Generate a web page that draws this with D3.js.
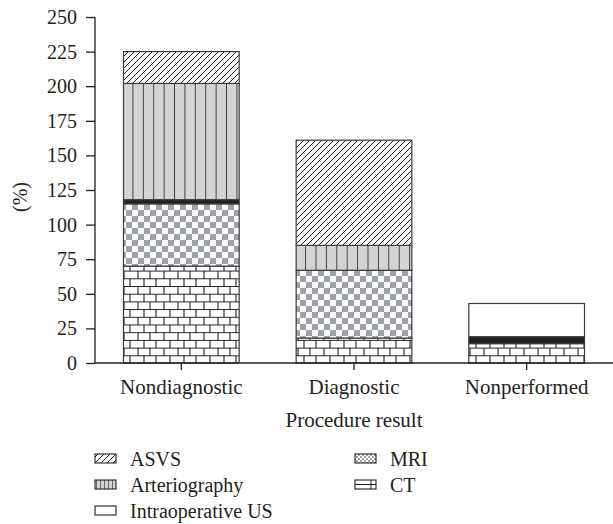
<!DOCTYPE html>
<html><head><meta charset="utf-8">
<script src="https://cdn.jsdelivr.net/npm/d3@7/dist/d3.min.js"></script>
<style>body{margin:0;background:#fff}svg{display:block}</style>
</head><body><svg id="c" width="613" height="524"></svg>
<script>
const categories = ["Nondiagnostic", "Diagnostic", "Nonperformed"];
const seriesNames = ["CT", "MRI", "Other", "Arteriography", "ASVS", "Intraoperative US"];
const ctValues = [70, 18, 14];
const mriValues = [45, 49, 0];
const otherValues = [3, 0, 5];
const arteriographyValues = [84, 18, 0];
const asvsValues = [23, 76, 0];
const intraopValues = [0, 0, 24];
const yTicks = [0, 25, 50, 75, 100, 125, 150, 175, 200, 225, 250];
const legendItems = [["ASVS","asvs"],["Arteriography","art"],["Intraoperative US","us"],["MRI","mri"],["CT","ct"]];

const FONT = "Liberation Serif";
const INK = "#231f20";
const svg = d3.select("#c");
const defs = svg.append("defs");

const x = d3.scaleBand().domain(categories).range([95, 613]).paddingInner(0.33).paddingOuter(0.165);
const y = d3.scaleLinear().domain([0, 250]).range([363, 17]);

let p = defs.append("pattern").attr("id","asvs").attr("patternUnits","userSpaceOnUse").attr("width",6).attr("height",6);
p.append("rect").attr("width",6).attr("height",6).attr("fill","#fff");
p.append("path").attr("d","M-1,7 L7,-1 M-4,4 L4,-4 M2,10 L10,2").attr("stroke",INK).attr("stroke-width",1);
categories.forEach((c,i)=>{
  const q = defs.append("pattern").attr("id","art"+i).attr("patternUnits","userSpaceOnUse").attr("width",10.4).attr("height",10).attr("x",x(c)-0.5);
  q.append("rect").attr("width",10.4).attr("height",10).attr("fill","#d3d3d5");
  q.append("path").attr("d","M10.4,0 V10").attr("stroke",INK).attr("stroke-width",1.6);
});
p = defs.append("pattern").attr("id","artL").attr("patternUnits","userSpaceOnUse").attr("width",4).attr("height",10);
p.append("rect").attr("width",4).attr("height",10).attr("fill","#d3d3d5");
p.append("path").attr("d","M0,0 V10").attr("stroke",INK).attr("stroke-width",1.2);
p = defs.append("pattern").attr("id","mri").attr("patternUnits","userSpaceOnUse").attr("width",12).attr("height",12);
p.append("rect").attr("width",12).attr("height",12).attr("fill","#fff");
p.append("rect").attr("width",6).attr("height",6).attr("fill","#9fa2a9");
p.append("rect").attr("x",6).attr("y",6).attr("width",6).attr("height",6).attr("fill","#9fa2a9");
p = defs.append("pattern").attr("id","mriL").attr("patternUnits","userSpaceOnUse").attr("width",4).attr("height",4);
p.append("rect").attr("width",4).attr("height",4).attr("fill","#fff");
p.append("rect").attr("width",2).attr("height",2).attr("fill","#9fa2a9");
p.append("rect").attr("x",2).attr("y",2).attr("width",2).attr("height",2).attr("fill","#9fa2a9");
p = defs.append("pattern").attr("id","ct").attr("patternUnits","userSpaceOnUse").attr("width",40).attr("height",15.4).attr("y",363);
p.append("rect").attr("width",40).attr("height",15.4).attr("fill","#fff");
p.append("path").attr("d","M0,0.5 H40 M0,8.2 H40 M4,0 V8 M18,0 V8 M30,0 V8 M10,8 V15.4 M24,8 V15.4 M36,8 V15.4").attr("stroke",INK).attr("stroke-width",1.1);

const fills = {"CT":()=>"url(#ct)","MRI":()=>"url(#mri)","Other":()=>INK,"Arteriography":i=>"url(#art"+i+")","ASVS":()=>"url(#asvs)","Intraoperative US":()=>"#fff"};

const rows = categories.map((c,i)=>({cat:c, idx:i, "CT":ctValues[i], "MRI":mriValues[i], "Other":otherValues[i], "Arteriography":arteriographyValues[i], "ASVS":asvsValues[i], "Intraoperative US":intraopValues[i]}));
const stack = d3.stack().keys(seriesNames)(rows);

const g = svg.append("g");
stack.forEach(layer=>{
  g.selectAll(null).data(layer.filter(d=>d[1]-d[0]>0)).enter().append("rect")
    .attr("x", d=>x(d.data.cat)).attr("width", x.bandwidth())
    .attr("y", d=>y(d[1])).attr("height", d=>y(d[0])-y(d[1]))
    .attr("fill", d=>fills[layer.key](d.data.idx)).attr("stroke","#3a3a3a").attr("stroke-width",1.2);
});

const ya = svg.append("g").attr("transform","translate(95,0)").call(d3.axisLeft(y).tickValues(yTicks).tickSize(9).tickPadding(9));
ya.attr("font-family",FONT).attr("font-size",20);
ya.select(".domain").attr("stroke",INK).attr("stroke-width",1.3).attr("d","M0,17V363");
ya.selectAll(".tick line").attr("stroke",INK).attr("stroke-width",1.3);
ya.selectAll("text").attr("fill",INK).attr("font-family",FONT).attr("font-size",20);
const xa = svg.append("g").attr("transform","translate(0,363)").call(d3.axisBottom(x).tickSize(7).tickPadding(9));
xa.attr("font-family",FONT).attr("font-size",21);
xa.select(".domain").attr("stroke",INK).attr("stroke-width",1.3).attr("d","M95,0H613");
xa.selectAll(".tick line").attr("stroke",INK).attr("stroke-width",1.3);
xa.selectAll("text").attr("fill",INK).attr("font-family",FONT).attr("font-size",21);

svg.append("text").attr("x",354).attr("y",427).attr("text-anchor","middle").attr("font-family",FONT).attr("font-size",21).attr("fill",INK).text("Procedure result");
svg.append("text").attr("transform","translate(27,197) rotate(-90)").attr("text-anchor","middle").attr("font-family",FONT).attr("font-size",20).attr("fill",INK).text("(%)");

const lg = svg.append("g");
legendItems.forEach((it,i)=>{
  const col = i<3?0:1, row = i<3?i:i-3;
  const lx = col===0?95:355, base = 466 + row*26;
  const id = it[1];
  const f = id==="asvs"?"url(#asvs)":id==="art"?"url(#artL)":id==="mri"?"url(#mriL)":"#fff";
  lg.append("rect").attr("x",lx).attr("y",base-12).attr("width",21).attr("height",9).attr("fill",f).attr("stroke",INK).attr("stroke-width",1.1);
  if(id==="ct"){
    lg.append("path").attr("d",`M${lx},${base-7.5} H${lx+21} M${lx+16},${base-12} V${base-3}`).attr("stroke",INK).attr("stroke-width",1);
  }
  lg.append("text").attr("x",lx+35).attr("y",base).attr("font-family",FONT).attr("font-size",20).attr("fill",INK).text(it[0]);
});
</script></body></html>
